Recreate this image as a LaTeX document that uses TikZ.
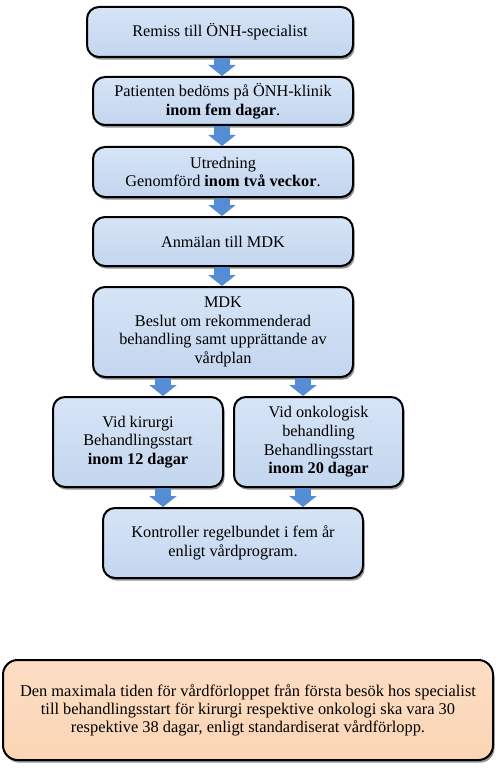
\documentclass[tikz,border=0pt]{standalone}
\usepackage{fontspec}
\setmainfont{Liberation Serif}
\usetikzlibrary{arrows.meta,shadows}

\definecolor{boxtop}{RGB}{214,228,246}
\definecolor{boxblue}{RGB}{195,214,239}
\definecolor{boxorange}{RGB}{251,213,181}
\definecolor{arrowblue}{RGB}{84,141,212}

\tikzset{every picture/.style={line width=0.75pt}}
\tikzset{
  stepbox/.style={draw=black, line width=1.5pt, rounded corners=9pt,
    top color=boxtop, bottom color=boxblue, align=center, inner sep=2pt,
    font=\fontsize{12.2}{14}\selectfont,
    drop shadow={shadow xshift=1.2pt, shadow yshift=-2pt, fill=black!60, opacity=0.7}},
  notebox/.style={stepbox, top color=boxorange!80!white, bottom color=boxorange,
    rounded corners=11pt, font=\fontsize{12.3}{13.5}\selectfont},
  flowarrow/.style={line width=12pt, draw=arrowblue, -{Triangle[width=20.25pt,length=8.25pt]}}
}

\begin{document}
\begin{tikzpicture}[x=0.75pt,y=0.75pt,yscale=-1,xscale=1]
		\useasboundingbox (0,0) rectangle (501,770);

		% steps of the flow
		\node [stepbox, minimum width=199.5pt, minimum height=37.5pt] (remiss) at (220,32) {Remiss till ÖNH-specialist};
		\node [stepbox, minimum width=195pt, minimum height=36pt] (bedom) at (223,101) {Patienten bedöms på ÖNH-klinik\\\textbf{inom fem dagar}.};
		\node [stepbox, minimum width=195pt, minimum height=37.5pt] (utred) at (223,172) {Utredning\\Genomförd \textbf{inom två veckor}.};
		\node [stepbox, minimum width=195pt, minimum height=36.75pt] (anmal) at (223,241.5) {Anmälan till MDK};
		\node [stepbox, minimum width=195pt, minimum height=67.5pt] (mdk) at (223,332) {MDK\\Beslut om rekommenderad\\behandling samt upprättande av\\vårdplan};
		\node [stepbox, minimum width=127.5pt, minimum height=67.5pt] (kirurgi) at (138,442) {Vid kirurgi\\Behandlingsstart\\\textbf{inom 12 dagar}};
		\node [stepbox, minimum width=126.75pt, minimum height=67.5pt] (onkologi) at (318.5,442) {Vid onkologisk\\behandling\\Behandlingsstart\\\textbf{inom 20 dagar}};
		\node [stepbox, minimum width=195pt, minimum height=52.5pt] (kontroll) at (233,543) {Kontroller regelbundet i fem år\\enligt vårdprogram.};

		% note at the bottom
		\node [notebox, minimum width=367.5pt, minimum height=75pt] (maxtid) at (248,710) {Den maximala tiden för vårdförloppet från första besök hos specialist\\till behandlingsstart för kirurgi respektive onkologi ska vara 30\\respektive 38 dagar, enligt standardiserat vårdförlopp.};

		% columns of the arrows
		\coordinate (colM) at (222,0);
		\coordinate (colL) at (163,0);
		\coordinate (colR) at (303,0);

		\draw [flowarrow] (remiss.south -| colM) -- (bedom.north -| colM);
		\draw [flowarrow] (bedom.south -| colM) -- (utred.north -| colM);
		\draw [flowarrow] (utred.south -| colM) -- (anmal.north -| colM);
		\draw [flowarrow] (anmal.south -| colM) -- (mdk.north -| colM);

		\draw [flowarrow] (mdk.south -| colL) -- (kirurgi.north -| colL);
		\draw [flowarrow] (mdk.south -| colR) -- (onkologi.north -| colR);
		\draw [flowarrow] (kirurgi.south -| colL) -- (kontroll.north -| colL);
		\draw [flowarrow] (onkologi.south -| colR) -- (kontroll.north -| colR);

\end{tikzpicture}
\end{document}
